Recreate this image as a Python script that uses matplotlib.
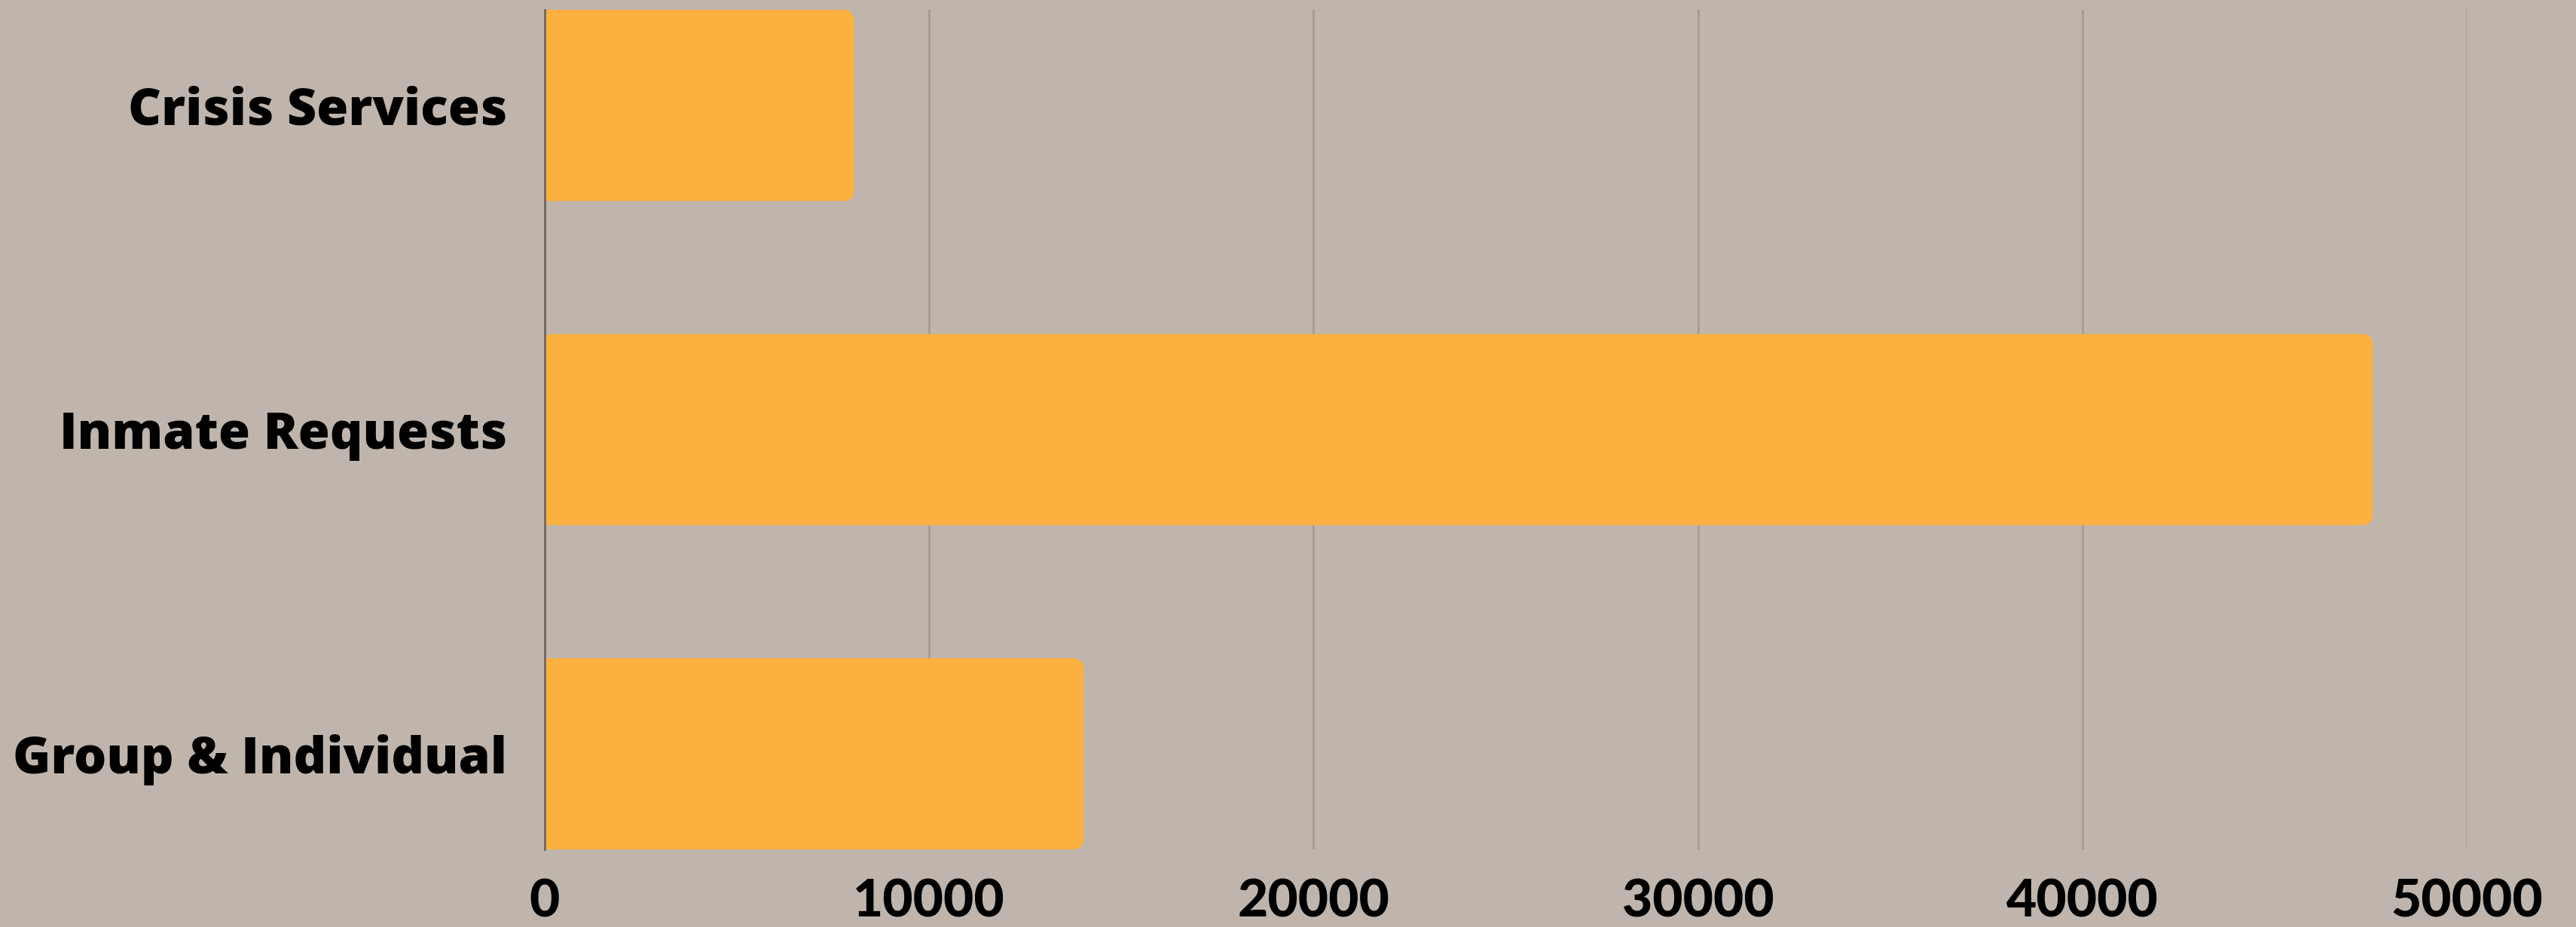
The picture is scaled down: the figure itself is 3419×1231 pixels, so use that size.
import matplotlib
matplotlib.use("Agg")
import matplotlib.pyplot as plt
from matplotlib.patches import FancyBboxPatch, Rectangle
from matplotlib.transforms import ScaledTranslation

categories = ["Crisis Services", "Inmate Requests", "Group & Individual"]
values = [8050, 47560, 14020]
xticks = [0, 10000, 20000, 30000, 40000, 50000]

BG = "#BFB5AC"
BAR = "#FBB040"
GRID = "#A39B94"

plt.rcParams["font.family"] = ["Lato", "DejaVu Sans"]

fig = plt.figure(figsize=(17.095, 6.155), dpi=200, facecolor=BG)
# axes box in pixels: x 723..3274, y 13..1128 of 3419x1231
ax = fig.add_axes([723 / 3419, 1 - 1128 / 1231, (3274 - 723) / 3419, (1128 - 13) / 1231])
ax.set_facecolor(BG)

bar_h = 0.59
ax.set_xlim(0, 50000)
ax.set_ylim(len(categories) - 1 + bar_h / 2, -bar_h / 2)

# rounded right end: ~15 px radius, converted to data units on each axis
px_x = 50000 / (3274 - 723)
px_y = (len(categories) - 1 + bar_h) / (1128 - 13)
r = 15 * px_x
for i, v in enumerate(values):
    y0 = i - bar_h / 2
    ax.add_patch(FancyBboxPatch((0, y0), v, bar_h,
                                boxstyle=f"round,pad=0,rounding_size={r}",
                                mutation_aspect=px_y / px_x,
                                facecolor=BAR, edgecolor="none", zorder=3))
    ax.add_patch(Rectangle((0, y0), v / 2, bar_h, facecolor=BAR,
                           edgecolor="none", zorder=3))

ax.set_yticks(range(len(categories)))
ax.set_yticklabels(categories)
ax.set_xticks(xticks)
ax.set_xticklabels([str(t) for t in xticks])
lift = ScaledTranslation(0, 7 / 200, fig.dpi_scale_trans)  # nudge labels up a bit
for lab in ax.get_yticklabels():
    lab.set_family(["Open Sans", "DejaVu Sans"])
    lab.set_fontsize(24.5)
    lab.set_fontweight("heavy")
    lab.set_color("black")
    lab.set_transform(lab.get_transform() + lift)
for lab in ax.get_xticklabels():
    lab.set_fontsize(25)
    lab.set_fontweight("black")
    lab.set_color("black")
ax.tick_params(axis="y", length=0, pad=18)
ax.tick_params(axis="x", length=0, pad=14)

ax.grid(axis="x", color=GRID, linewidth=1.0, zorder=1)
ax.set_axisbelow(True)
for s in ["top", "right", "bottom"]:
    ax.spines[s].set_visible(False)
ax.spines["left"].set_color("#6E6862")
ax.spines["left"].set_linewidth(1.0)
ax.spines["left"].set_zorder(4)

fig.savefig("out.png", dpi=200, facecolor=BG)
